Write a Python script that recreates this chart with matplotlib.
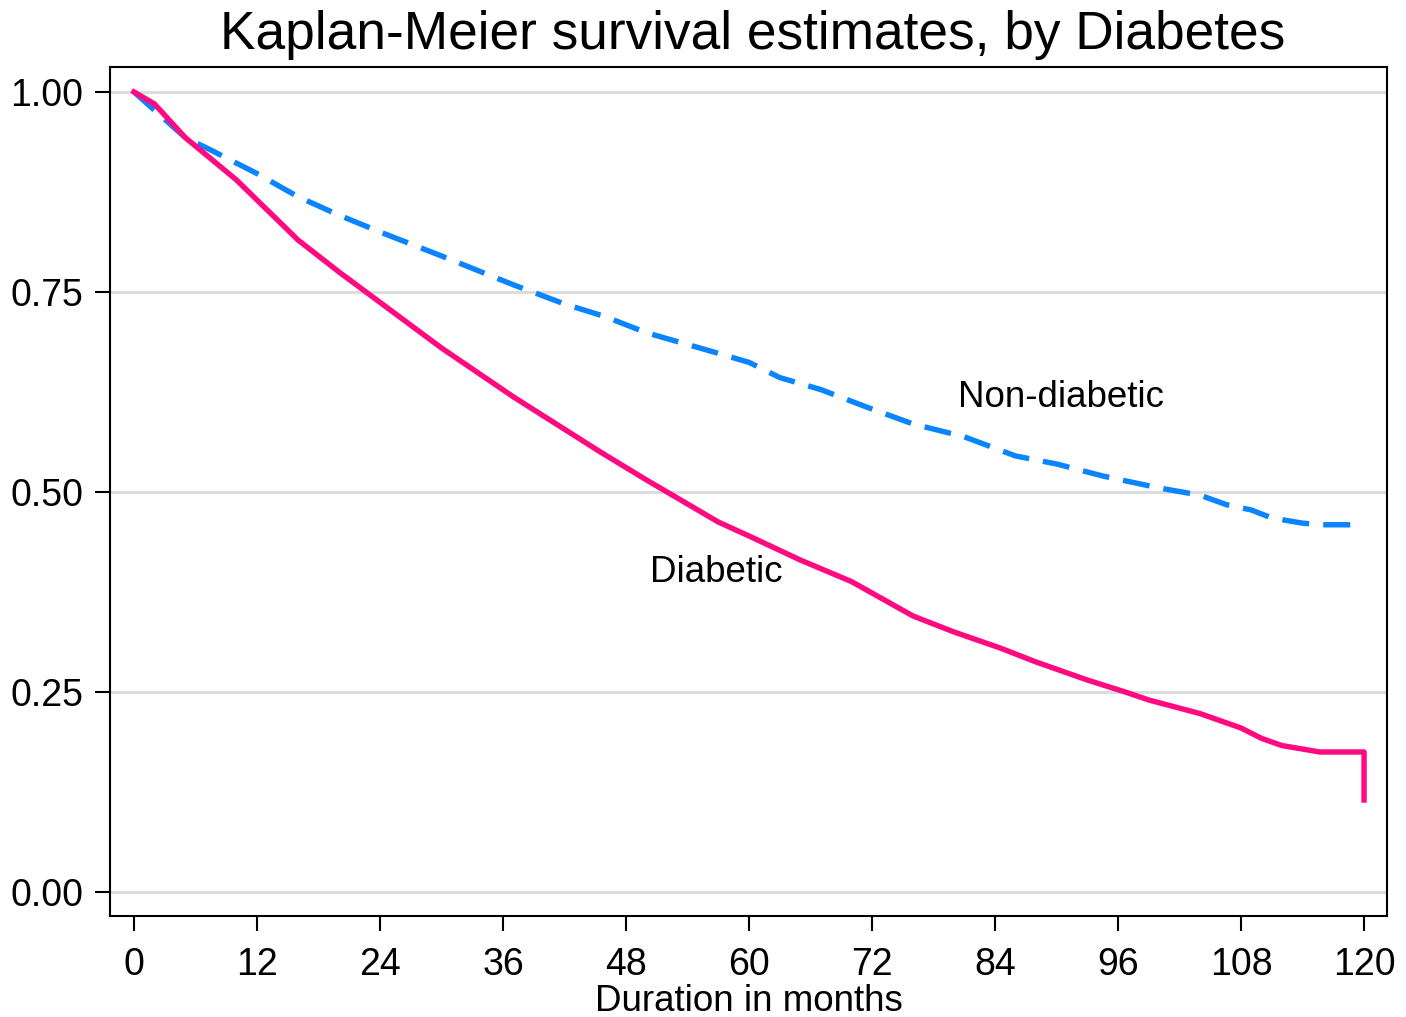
import matplotlib
matplotlib.use("Agg")
import matplotlib.pyplot as plt

plt.rcParams['font.family'] = ['Liberation Sans', 'DejaVu Sans']

# Kaplan-Meier estimates (months, survival)
meses_dm = [0, 2, 5, 10, 16, 20, 24, 30, 37, 45.5, 50, 52, 57, 60, 65, 70, 76,
            80, 84.5, 88, 93, 96.7, 99, 104, 108, 110, 112, 115.7, 120, 120]
surv_dm = [1.0, 0.985, 0.943, 0.89, 0.815, 0.775, 0.737, 0.68, 0.619, 0.55, 0.515,
           0.50, 0.4625, 0.445, 0.415, 0.388, 0.345, 0.325, 0.305, 0.2875, 0.265,
           0.25, 0.24, 0.223, 0.205, 0.192, 0.183, 0.175, 0.175, 0.115]

meses_no = [0, 5, 7.4, 12, 16, 20, 24, 26, 30, 37, 42, 46, 50, 56, 60, 63, 67,
            71.5, 76, 81, 86, 90, 94.5, 100, 104, 106.6, 109, 111, 114, 116, 120]
surv_no = [1.0, 0.943, 0.928, 0.898, 0.869, 0.846, 0.825, 0.815, 0.795, 0.759,
           0.735, 0.719, 0.699, 0.677, 0.662, 0.643, 0.628, 0.606, 0.585, 0.569,
           0.545, 0.535, 0.52, 0.505, 0.496, 0.484, 0.4775, 0.4675, 0.461, 0.459,
           0.459]

xticks = list(range(0, 121, 12))
yticks = [0.0, 0.25, 0.5, 0.75, 1.0]

fig = plt.figure(figsize=(14.06, 10.17), dpi=100)
ax = fig.add_axes([0.0782, 0.0993, 0.9083, 0.8347])

for y in yticks:
    ax.axhline(y, color='#dcdcdc', linewidth=2.2, zorder=1)

ax.plot(meses_no, surv_no, color='#0a84ff', linewidth=3.9,
        linestyle=(0, (5, 2.6)), zorder=3)
ax.plot(meses_dm, surv_dm, color='#ff0a80', linewidth=3.9, zorder=4)

ax.text(80.4, 0.6175, 'Non-diabetic', fontsize=26.5, va='center', ha='left')
ax.text(50.3, 0.399, 'Diabetic', fontsize=26.5, va='center', ha='left')

ax.set_xlim(-2.34, 122.24)
ax.set_ylim(-0.03, 1.031)
ax.set_xticks(xticks)
ax.set_yticks(yticks)
ax.set_yticklabels([f'{v:.2f}' for v in yticks])
ax.tick_params(labelsize=27, length=11, width=1.5)
ax.tick_params(axis='x', pad=11)
ax.tick_params(axis='y', pad=8)

for s in ax.spines.values():
    s.set_linewidth(1.5)

ax.set_xlabel('Duration in months', fontsize=26.5, labelpad=1)
fig.suptitle('Kaplan-Meier survival estimates, by Diabetes', fontsize=38.3,
             x=0.535, y=0.99)

fig.savefig('out.png', dpi=100)
